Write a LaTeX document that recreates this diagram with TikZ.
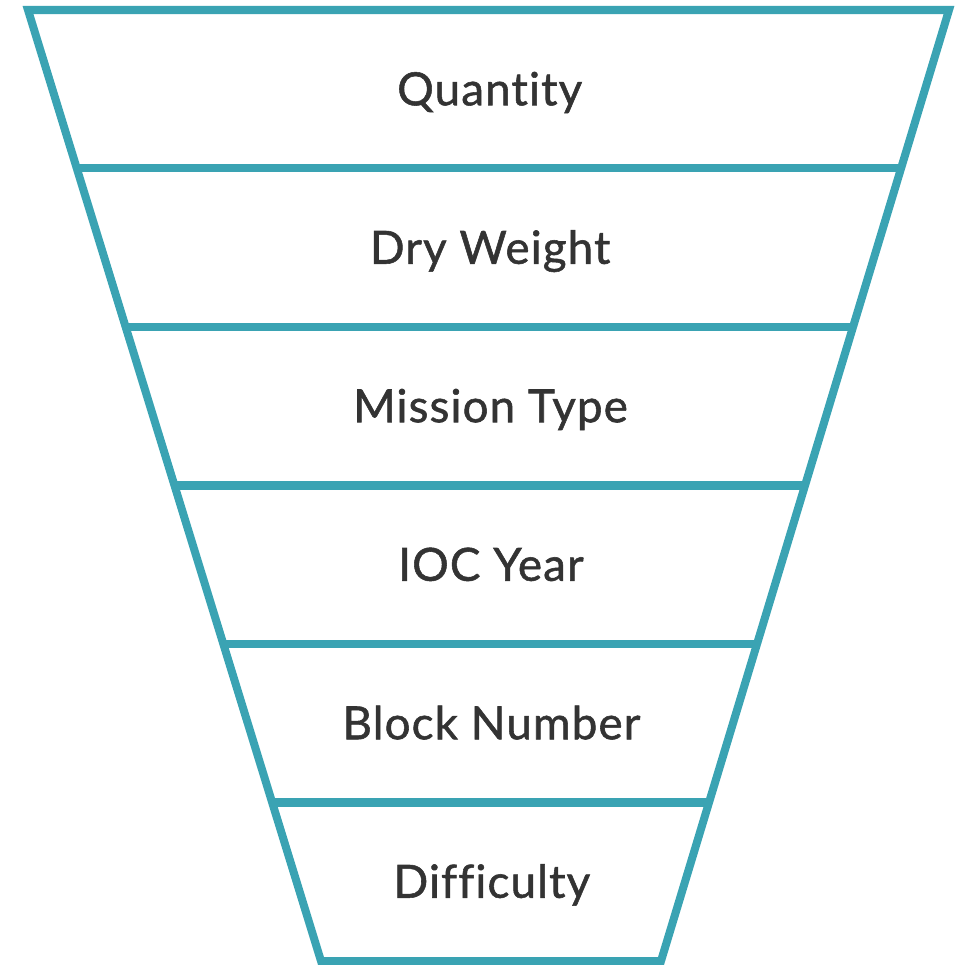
\documentclass[tikz,border=0pt]{standalone}
\usepackage{fontspec}
\setmainfont{Lato}
\newfontfamily\stagefont[FakeBold=1.2, LetterSpace=2.5, Ligatures=NoCommon]{Lato}
\usetikzlibrary{calc}
\definecolor{funnelteal}{HTML}{3AA3B3}
\definecolor{labelgray}{HTML}{333333}
\tikzset{
    funnel/.style={draw=funnelteal, line width=5.7pt, line join=miter},
    stage/.style={anchor=base, text=labelgray, font=\stagefont\fontsize{32.5}{36}\selectfont, inner sep=0pt}
}
\begin{document}
\begin{tikzpicture}[x=0.025cm,y=-0.025cm]
    \useasboundingbox (0,0) rectangle (956,965);

    % Corners of the funnel
    \coordinate (tl) at (28,10);
    \coordinate (tr) at (949,10);
    \coordinate (bl) at (321,961);
    \coordinate (br) at (661,961);

    % Outline
    \draw[funnel] (tl) -- (tr) -- (br) -- (bl) -- cycle;

    % Dividers
    \foreach \i in {1,...,5}
        \draw[funnel] ($(tl)!\i/6!(bl)$) -- ($(tr)!\i/6!(br)$);

    % Labels
    \foreach \txt [count=\i] in {Quantity, Dry Weight, Mission Type, IOC Year, Block Number, Difficulty}
        \node[stage] (stage\i) at ($($(tl)!{(\i-0.5)/6}!(bl)$)!0.5!($(tr)!{(\i-0.5)/6}!(br)$) + (1,16)$) {\txt};
\end{tikzpicture}
\end{document}
